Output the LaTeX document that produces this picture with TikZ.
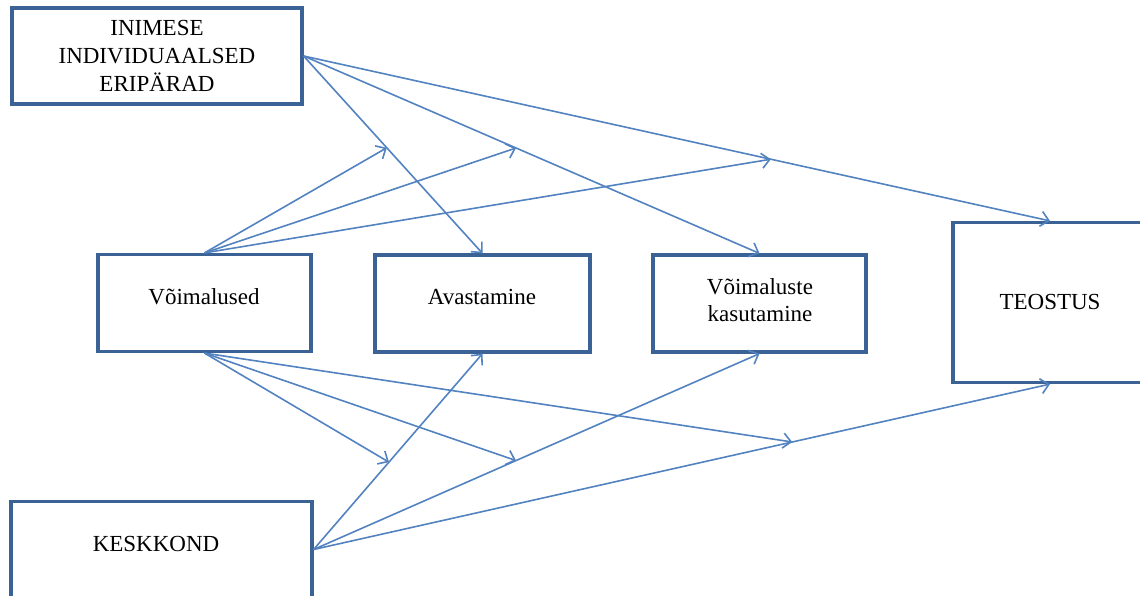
\documentclass[tikz,border=0pt]{standalone}
\usepackage{fontspec}
\setmainfont{Liberation Serif}
\usetikzlibrary{arrows.meta}
\definecolor{boxline}{HTML}{3A6295}
\definecolor{arrowline}{HTML}{5283C0}
\begin{document}
\begin{tikzpicture}[x=1pt,y=-1pt,
  box/.style={draw=boxline,line width=3.2pt,rectangle,inner sep=0pt,fill=white},
  txt/.style={font=\fontsize{23}{27.6}\selectfont,align=center,inner sep=0pt},
  link/.style={draw=arrowline,line width=1.6pt,-{Straight Barb[length=8pt,width=15pt]}}]
\useasboundingbox (0,0) rectangle (1140,596);
% boxes
\node[box,minimum width=290pt,minimum height=96pt] (ind) at (157,56) {};
\node[box,minimum width=213pt,minimum height=97pt] (voi) at (204.5,303) {};
\node[box,minimum width=215pt,minimum height=97pt] (ava) at (482.5,303.5) {};
\node[box,minimum width=213pt,minimum height=97pt] (kas) at (759.5,303.5) {};
\node[box,minimum width=194pt,minimum height=160pt] (teo) at (1050,302.5) {};
\node[box,minimum width=301pt,minimum height=96pt] (kes) at (161.5,549.5) {};
% labels
\node[txt] (tind) at (157,56) {INIMESE\\INDIVIDUAALSED\\ERIPÄRAD};
\node[txt] (tvoi) at (204,297) {Võimalused};
\node[txt] (tava) at (482,297) {Avastamine};
\node[txt] (tkas) at (760,300) {Võimaluste\\kasutamine};
\node[txt] (tteo) at (1050,302) {TEOSTUS};
\node[txt] (tkes) at (156,544) {KESKKOND};
% direct links
\draw[link] (ind.east) -- (ava.north);
\draw[link] (ind.east) -- (kas.north);
\draw[link] (ind.east) -- (teo.north);
\draw[link] (kes.east) -- (ava.south);
\draw[link] (kes.east) -- (kas.south);
\draw[link] (kes.east) -- (teo.south);
% points on those links where the moderating arrows land
\path (ind.east) -- (ava.north) coordinate[pos=0.465] (u1);
\path (ind.east) -- (kas.north) coordinate[pos=0.466] (u2);
\path (ind.east) -- (teo.north) coordinate[pos=0.626] (u3);
\path (kes.east) -- (ava.south) coordinate[pos=0.446] (d1);
\path (kes.east) -- (kas.south) coordinate[pos=0.454] (d2);
\path (kes.east) -- (teo.south) coordinate[pos=0.65] (d3);
% moderating arrows from the opportunities box
\draw[link] (voi.north) -- (u1);
\draw[link] (voi.north) -- (u2);
\draw[link] (voi.north) -- (u3);
\draw[link] (voi.south) -- (d1);
\draw[link] (voi.south) -- (d2);
\draw[link] (voi.south) -- (d3);
\end{tikzpicture}
\end{document}
